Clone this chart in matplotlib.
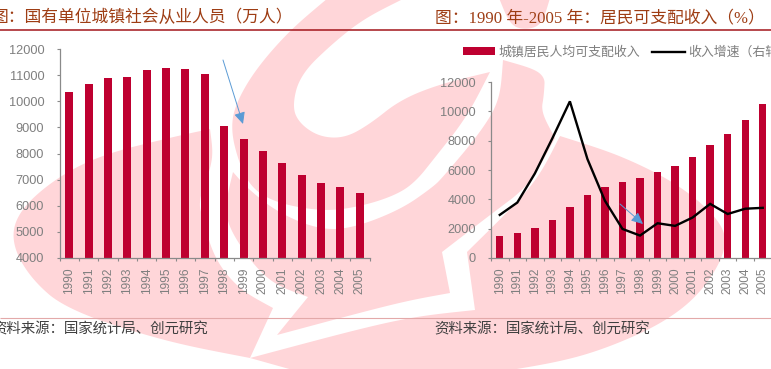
import matplotlib
matplotlib.use("Agg")
import matplotlib.pyplot as plt
from matplotlib.patches import Polygon

W, H = 771, 369
years = [str(y) for y in range(1990, 2006)]
employees = [10346, 10664, 10889, 10920, 11214, 11261, 11244, 11044, 9058, 8572, 8102, 7640, 7163, 6876, 6710, 6488]
income = [1510, 1700, 2027, 2577, 3496, 4283, 4839, 5160, 5425, 5854, 6280, 6860, 7703, 8472, 9422, 10493]
growth = [9.8, 12.6, 19.2, 27.2, 35.6, 22.5, 13.0, 6.6, 5.1, 7.9, 7.3, 9.2, 12.3, 10.0, 11.2, 11.4]

title_left = "图\uff1a国有单位城镇社会从业人员\uff08万人\uff09"
title_right = "图\uff1a1990 年-2005 年\uff1a居民可支配收入\uff08%\uff09"
source = "资料来源\uff1a国家统计局、创元研究"
legend_bar = "城镇居民人均可支配收入"
legend_line = "收入增速\uff08右轴\uff09"

RED = "#BE0030"
PINK = "#FFD6D9"
GREY = "#7F7F7F"
AXIS = "#8A8A8A"
TITLE = "#9E3D14"
BLUE = "#5B9BD5"
CJK = ["Liberation Serif", "Noto Sans CJK SC", "DejaVu Sans"]
plt.rcParams["font.family"] = ["Liberation Sans", "Noto Sans CJK SC", "DejaVu Sans"]

fig = plt.figure(figsize=(W / 100, H / 100), dpi=100, facecolor="white")


def axes_px(x0, x1, ytop, ybot):
    return fig.add_axes([x0 / W, 1 - ybot / H, (x1 - x0) / W, (ybot - ytop) / H])


def smooth(pts, rounds=4):
    """Corner cutting; points given with a third item stay sharp."""
    cur = [(p[0], p[1], len(p) > 2) for p in pts]
    for _ in range(rounds):
        new = []
        for i, a in enumerate(cur):
            b = cur[(i + 1) % len(cur)]
            if a[2]:
                new.append(a)
            else:
                new.append((0.75 * a[0] + 0.25 * b[0], 0.75 * a[1] + 0.25 * b[1], False))
            if not b[2]:
                new.append((0.25 * a[0] + 0.75 * b[0], 0.25 * a[1] + 0.75 * b[1], False))
        cur = new
    return [(p[0], p[1]) for p in cur]


# Background layer, in image pixels
bg = axes_px(0, W, 0, H)
bg.set_xlim(0, W)
bg.set_ylim(H, 0)
bg.axis("off")
bg.set_zorder(0)

watermark = [
    # upper crescent
    [(328, -2, 1), (290, 30), (255, 70), (235, 105), (231, 130), (238, 160), (250, 186), (270, 200), (300, 208),
     (333, 211), (370, 204), (400, 193), (417, 180), (433, 160), (467, 117), (490, 72, 1), (440, 84), (400, 100),
     (370, 124), (345, 138), (320, 137), (300, 124), (292, 107), (300, 75), (333, 43), (365, 18), (405, -2, 1)],
    # middle band
    [(233, 172, 1), (247, 188), (277, 212), (317, 229), (350, 229), (400, 210), (433, 187), (443, 177), (480, 133),
     (500, 100), (503, 60, 1), (545, 72), (544, 95), (541, 112), (555, 138, 1), (530, 185), (490, 215),
     (442, 252, 1), (450, 293, 1), (400, 302), (277, 335, 1), (308, 297, 1), (267, 282), (230, 232), (225, 205)],
    # lower sweep and blob
    [(11, 242), (18, 212), (53, 180), (100, 155), (177, 136), (210, 129, 1), (214, 160), (198, 200), (203, 220),
     (215, 260), (240, 290), (273, 308, 1), (250, 358, 1), (400, 318), (475, 310, 1), (467, 252, 1), (535, 185),
     (560, 136, 1), (620, 155), (680, 185), (722, 222), (727, 250), (702, 292), (665, 322), (610, 347), (560, 362),
     (480, 375, 1), (300, 372, 1), (250, 358, 1), (167, 342), (67, 310), (30, 278)],
    # cap at the top
    [(499, -2, 1), (510, 25), (525, 30), (542, 25), (550, -2, 1)],
]
for pts in watermark:
    bg.add_patch(Polygon(smooth(pts), closed=True, fc=PINK, ec="none"))

# Rules and texts
bg.plot([0, W], [30, 30], color="#A3161B", lw=1.1, solid_capstyle="butt")
bg.plot([0, W], [318, 318], color="#E3A9A9", lw=0.8, solid_capstyle="butt")
bg.text(-8, 18, title_left, family=CJK, fontsize=12.1, color=TITLE, va="center", ha="left")
bg.text(435, 18, title_right, family=CJK, fontsize=12.1, color=TITLE, va="center", ha="left")
bg.text(-8, 329, source, family=CJK, fontsize=10.4, color="#404040", va="center", ha="left")
bg.text(434, 329, source, family=CJK, fontsize=10.4, color="#404040", va="center", ha="left")


def style(ax, pad_y):
    ax.set_zorder(1)
    ax.patch.set_alpha(0)
    for s in ("top", "right"):
        ax.spines[s].set_visible(False)
    for s in ("left", "bottom"):
        ax.spines[s].set_color(AXIS)
        ax.spines[s].set_linewidth(0.9)
    ax.set_xlim(-0.5, 15.5)
    ax.set_xticks(range(16))
    ax.set_xticklabels(years, rotation=90)
    ax.set_xticks([i - 0.5 for i in range(17)], minor=True)
    ax.tick_params(axis="x", which="major", length=0, pad=6.8, labelsize=8.6, labelcolor=GREY)
    ax.tick_params(axis="x", which="minor", length=2.4, width=0.8, color=AXIS)
    ax.tick_params(axis="y", length=2.4, width=0.8, color=AXIS, pad=pad_y, labelsize=9.2, labelcolor=GREY)


# Left chart
ax1 = axes_px(59.5, 369.5, 49, 258)
ax1.bar(range(16), employees, width=0.41, color=RED)
ax1.set_ylim(4000, 12000)
ax1.set_yticks(range(4000, 12001, 1000))
style(ax1, 8.6)

# Right chart
ax2 = axes_px(491, 771.5, 82, 258)
bars = ax2.bar(range(16), income, width=0.42, color=RED, label=legend_bar)
ax2.set_ylim(0, 12000)
ax2.set_yticks(range(0, 12001, 2000))
style(ax2, 8.4)

ax3 = ax2.twinx()
ax3.set_zorder(2)
ax3.patch.set_alpha(0)
line, = ax3.plot(range(16), growth, color="black", lw=1.7, label=legend_line, solid_joinstyle="miter")
ax3.set_ylim(0, 40)
ax3.axis("off")

fig.legend(handles=[bars, line], labels=[legend_bar, legend_line], ncol=2, frameon=False,
           loc="center left", bbox_to_anchor=(463 / W, 1 - 52.5 / H), borderaxespad=0, borderpad=0,
           labelcolor=GREY, handlelength=2.5, handleheight=0.5, handletextpad=0.25,
           columnspacing=0.95, prop={"family": CJK, "size": 9.3})

# Arrows on top of the charts
top = axes_px(0, W, 0, H)
top.set_xlim(0, W)
top.set_ylim(H, 0)
top.axis("off")
top.set_zorder(3)
for start, end in [((223, 60), (243, 124)), ((620, 204), (643, 224))]:
    top.annotate("", xy=end, xytext=start,
                 arrowprops=dict(arrowstyle="-|>,head_length=0.7,head_width=0.33", color=BLUE, lw=0.7,
                                 shrinkA=0, shrinkB=0, mutation_scale=10))

fig.savefig("out.png", dpi=100)
